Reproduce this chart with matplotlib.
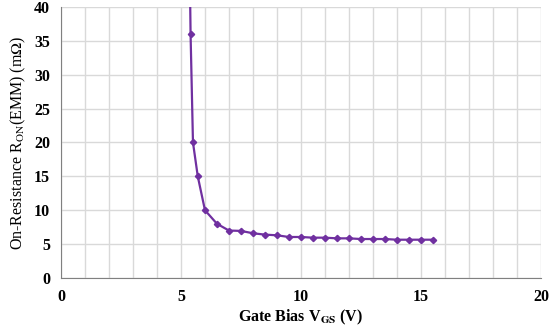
import numpy as np
import matplotlib.pyplot as plt

plt.rcParams['font.family'] = 'Liberation Serif'
plt.rcParams['mathtext.fontset'] = 'stix'

# gate bias (V) and on-resistance (mOhm)
vgs = [5.35, 5.4, 5.5, 5.7, 6.0, 6.5, 7.0, 7.5, 8.0, 8.5, 9.0, 9.5, 10.0, 10.5,
       11.0, 11.5, 12.0, 12.5, 13.0, 13.5, 14.0, 14.5, 15.0, 15.5]
ron = [50, 36, 20, 15, 10, 8.0, 7.0, 6.95, 6.6, 6.4, 6.3, 6.05, 6.05, 5.95,
       5.95, 5.85, 5.85, 5.75, 5.75, 5.75, 5.65, 5.65, 5.65, 5.65]

purple = '#7030A0'

fig = plt.figure(figsize=(5.51, 3.32), dpi=100)
ax = fig.add_axes([0.1107, 0.1627, 0.871, 0.8163])

ax.plot(vgs, ron, color=purple, lw=1.6, marker='D', ms=3.2,
        markevery=list(range(1, len(vgs))), zorder=3)

ax.set_xlim(0, 20)
ax.set_ylim(0, 40)
ax.set_xticks([0, 5, 10, 15, 20])
ax.set_xticks(np.arange(0, 21, 1), minor=True)
ax.set_yticks(np.arange(0, 41, 5))
ax.grid(True, which='both', axis='x', color='#d9d9d9', lw=1)
ax.grid(True, which='major', axis='y', color='#d9d9d9', lw=1)
ax.set_axisbelow(True)
ax.tick_params(which='both', length=0, labelsize=11.5, pad=8)
for lab in ax.get_xticklabels() + ax.get_yticklabels():
    lab.set_fontweight('bold')

for s in ['top', 'right']:
    ax.spines[s].set_visible(False)
ax.spines['left'].set_color('#808080')
ax.spines['bottom'].set_color('#808080')

ax.set_xlabel(r'Gate Bias V$_{\mathbf{GS}}$ (V)', fontsize=11.5, fontweight='bold', labelpad=2)
ax.set_ylabel(r'On-Resistance R$_{\mathrm{ON}}$(EMM) (m$\Omega$)', fontsize=11.5, labelpad=4)

fig.savefig('out.png', dpi=100)
